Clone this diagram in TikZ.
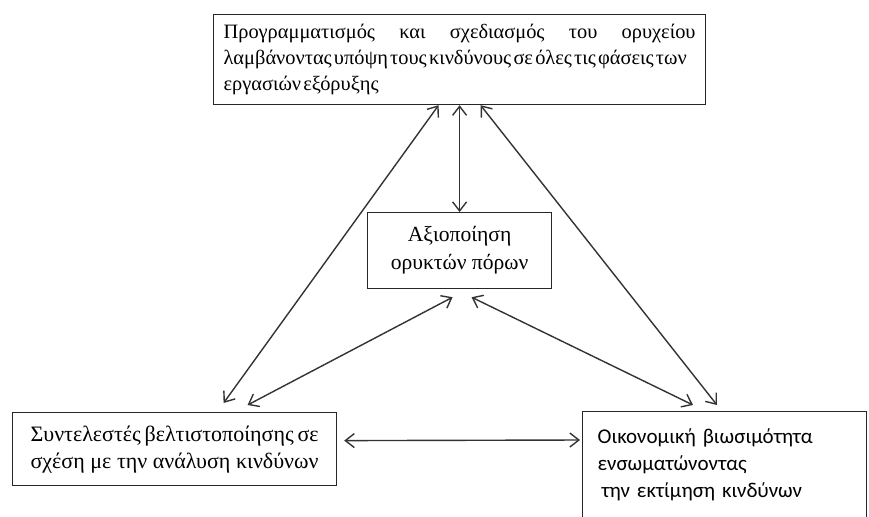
\documentclass[tikz,border=0pt]{standalone}
\usepackage{fontspec}
\setmainfont{Liberation Serif}
\newfontfamily\calibrifont{Carlito}
\newcommand\tightspaces{\spaceskip=1.1pt plus 6pt\relax}
\usetikzlibrary{arrows.meta}
\begin{document}
\begin{tikzpicture}[x=0.5pt,y=-0.5pt,
    box/.style={draw=black!85,line width=0.6pt,inner ysep=0pt,anchor=north west},
    link/.style={{Straight Barb[length=4.5pt,width=7pt]}-{Straight Barb[length=4.5pt,width=7pt]},draw=black!80,line width=0.7pt}]
    \useasboundingbox (0,0) rectangle (869,516);
    \clip (0,0) rectangle (869,516);
    \node[box,text width=236pt,inner xsep=5pt,minimum height=45pt,align=left,font=\fontsize{10.2}{13}\selectfont] (plan) at (213,14)
        {\tightspaces Προγραμματισμός\hfill και\hfill σχεδιασμός\hfill του\hfill ορυχείου\\λαμβάνοντας υπόψη τους κινδύνους σε όλες τις φάσεις των\\εργασιών εξόρυξης};
    \node[box,minimum width=92pt,minimum height=38pt,align=center,font=\fontsize{10.8}{14}\selectfont] (use) at (367,212)
        {Αξιοποίηση\\ορυκτών πόρων};
    \node[box,text width=144pt,inner xsep=9pt,minimum height=36.5pt,align=left,font=\fontsize{11}{13.5}\selectfont] (risk) at (12,412)
        {Συντελεστές\hfill βελτιστοποίησης\hfill σε\\σχέση\hfill με\hfill την\hfill ανάλυση\hfill κινδύνων};
    \node[box,text width=127pt,inner xsep=7.5pt,minimum height=53pt,align=left,font=\calibrifont\fontsize{10.5}{13.5}\selectfont] (econ) at (582,411)
        {Οικονομική βιωσιμότητα\\ενσωματώνοντας\\\hspace*{2pt}την εκτίμηση κινδύνων};
    \draw[link] (plan.south) -- (use.north);
    \draw[link] ([xshift=-10.5pt]plan.south) -- ([xshift=24.5pt,yshift=4.5pt]risk.north);
    \draw[link] ([xshift=10.5pt]plan.south) -- ([xshift=67.5pt,yshift=3pt]econ.north west);
    \draw[link] ([xshift=-3.5pt,yshift=-4pt]use.south) -- ([xshift=36.5pt,yshift=3.5pt]risk.north);
    \draw[link] ([xshift=6pt,yshift=-4pt]use.south) -- ([xshift=55.5pt,yshift=3pt]econ.north west);
    \draw[link] ([xshift=3.5pt,yshift=4.25pt]risk.east) -- ([xshift=-1pt,yshift=-14.5pt]econ.north west);
\end{tikzpicture}
\end{document}
